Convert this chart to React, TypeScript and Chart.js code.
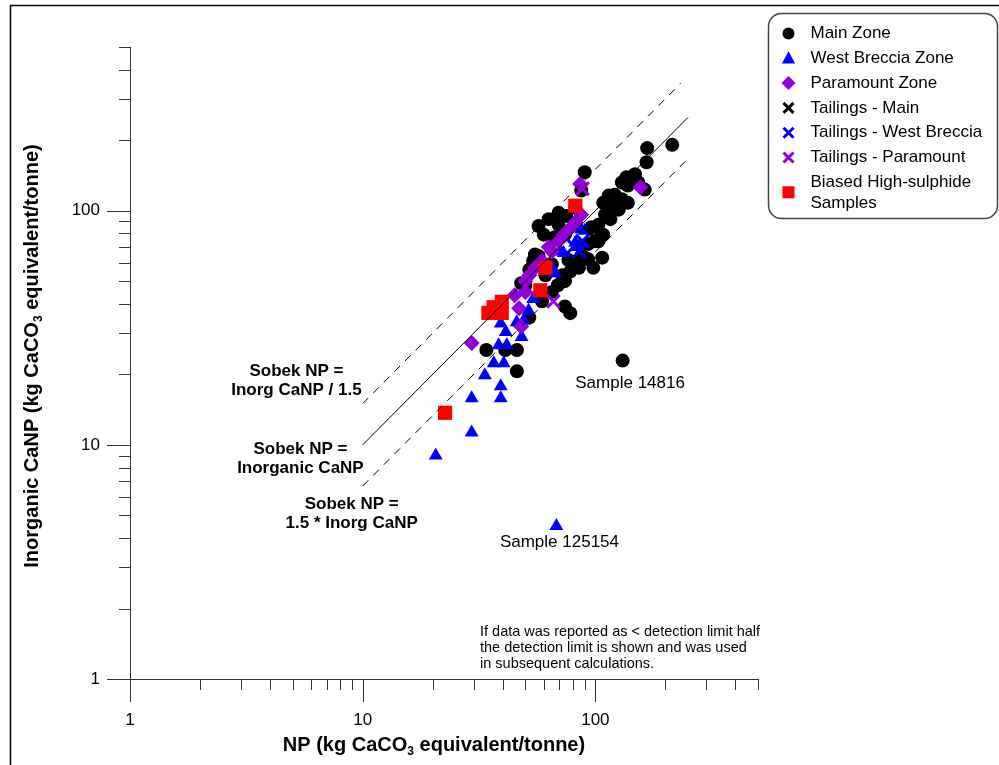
import React, { useEffect, useRef } from 'react';
import { Chart, registerables } from 'chart.js';

Chart.register(...registerables);

// ---------- data (NP, Inorganic CaNP) ----------
const mainZone: [number, number][] = [
  [214, 191], [167, 185], [166, 161], [90, 146], [87, 122], [148, 143], [136, 139], [130, 132],
  [138, 128], [163, 123], [153, 132], [114, 116], [121, 117], [108, 108], [130, 112], [117, 103],
  [126, 101], [138, 108], [110, 96], [103, 87], [116, 92], [96, 85], [108, 79], [100, 74],
  [105, 77], [93, 72], [93, 62], [87, 64], [82, 59], [78, 55], [74, 50], [69, 48], [74, 39],
  [78, 36.5], [82, 103], [75, 95], [69.5, 87], [74, 79], [67, 77], [57, 64], [54, 61], [52, 56],
  [48, 49], [65, 45], [59, 41], [52, 35], [34, 25.4], [41, 25.4], [46, 25.4], [46, 20.6],
  [131, 22.9], [65, 59], [72, 53], [61, 53], [63, 92], [57, 86], [60, 79], [55, 65], [50, 48],
  [103, 74], [90, 63], [85, 57], [69.5, 98], [76.6, 61.6], [98, 57], [107, 63],
];
const westBreccia: [number, number][] = [
  [20.6, 9.0], [29.4, 11.3], [29.4, 15.8], [39.2, 15.8], [39.2, 17.8], [33.5, 19.8], [36.6, 22.3],
  [40.4, 22.3], [38.4, 26.6], [41.6, 26.6], [48.2, 28.9], [41.2, 30.3], [39.2, 33], [49.2, 34],
  [51.6, 37.5], [45.9, 33.4], [73, 66], [83, 70], [87, 83], [68, 4.5], [67, 54], [54, 42],
  [71, 67], [82, 73], [90, 82], [66, 56],
];
const paramount: [number, number][] = [
  [29.4, 27.2], [156, 126], [86, 130], [63, 70], [45, 43.5], [47, 38.3], [48, 32], [87, 96],
  [82, 89], [77, 83], [73, 79], [69.5, 74], [65, 67], [59, 61], [55, 57], [52, 53], [50, 50], [50, 45],
];
const tailingsMain: [number, number][] = [[120, 110], [95, 80]];
const tailingsWestBreccia: [number, number][] = [[81, 70.5], [85, 67], [88, 74]];
const tailingsParamount: [number, number][] = [[66, 41], [88, 124]];
const biasedHighSulphide: [number, number][] = [
  [82, 105], [61, 57], [58, 45.7], [22.6, 13.7], [34.7, 36.6], [36.5, 38.7], [39.6, 40.8], [39.6, 36.6],
];

// reference lines
const lineOneToOne: [number, number][] = [[10, 10], [250, 250]];
const lineUpper: [number, number][] = [[10, 15], [233, 350]];
const lineLower: [number, number][] = [[10, 6.67], [250, 166.7]];

// axis ticks
const axisMin = 1;
const axisMax = 500;
const majorTicks = [1, 10, 100];
const minorTicks = [2, 3, 4, 5, 6, 7, 8, 9, 20, 30, 40, 50, 60, 70, 80, 90, 200, 300, 400, 500];
const majorTickLabels = ['1', '10', '100'];

const legendLabels = [
  'Main Zone',
  'West Breccia Zone',
  'Paramount Zone',
  'Tailings - Main',
  'Tailings - West Breccia',
  'Tailings - Paramount',
  'Biased High-sulphide|Samples',
];

const BLACK = '#000000';
const BLUE = '#0000FF';
const PURPLE = '#9400D3';
const RED = '#FF0000';
const FONT = "'Liberation Sans', Arial, Helvetica, sans-serif";

const toXY = (arr: [number, number][]) => arr.map(([x, y]) => ({ x, y }));

function drawMarker(ctx: CanvasRenderingContext2D, kind: string, x: number, y: number, r: number, color: string) {
  ctx.save();
  ctx.fillStyle = color;
  ctx.strokeStyle = color;
  ctx.beginPath();
  if (kind === 'circle') {
    ctx.arc(x, y, r, 0, Math.PI * 2);
    ctx.fill();
  } else if (kind === 'triangle') {
    ctx.moveTo(x, y - r);
    ctx.lineTo(x + r * 0.95, y + r * 0.75);
    ctx.lineTo(x - r * 0.95, y + r * 0.75);
    ctx.closePath();
    ctx.fill();
  } else if (kind === 'diamond') {
    ctx.moveTo(x, y - r);
    ctx.lineTo(x + r, y);
    ctx.lineTo(x, y + r);
    ctx.lineTo(x - r, y);
    ctx.closePath();
    ctx.fill();
  } else if (kind === 'cross') {
    ctx.lineWidth = 3;
    ctx.moveTo(x - r, y - r);
    ctx.lineTo(x + r, y + r);
    ctx.moveTo(x + r, y - r);
    ctx.lineTo(x - r, y + r);
    ctx.stroke();
  } else if (kind === 'square') {
    ctx.fillRect(x - r, y - r, 2 * r, 2 * r);
  }
  ctx.restore();
}

function drawSubTitle(ctx: CanvasRenderingContext2D, cx: number, cy: number, pre: string, sub: string, post: string, size: number) {
  const big = `bold ${size}px ${FONT}`;
  const small = `bold ${Math.round(size * 0.6)}px ${FONT}`;
  ctx.font = big;
  const w1 = ctx.measureText(pre).width;
  const w3 = ctx.measureText(post).width;
  ctx.font = small;
  const w2 = ctx.measureText(sub).width;
  let x = cx - (w1 + w2 + w3) / 2;
  ctx.textAlign = 'left';
  ctx.textBaseline = 'middle';
  ctx.font = big;
  ctx.fillText(pre, x, cy);
  x += w1;
  ctx.font = small;
  ctx.fillText(sub, x, cy + size * 0.32);
  x += w2;
  ctx.font = big;
  ctx.fillText(post, x, cy);
}

const overlayPlugin = {
  id: 'overlay',
  beforeDatasetsDraw(chart: any) {
    const ctx: CanvasRenderingContext2D = chart.ctx;
    const xs = chart.scales.x;
    const ys = chart.scales.y;
    const x0 = xs.getPixelForValue(axisMin);
    const x1 = xs.getPixelForValue(axisMax);
    const y0 = ys.getPixelForValue(axisMin);
    const y1 = ys.getPixelForValue(axisMax);
    ctx.save();
    // frame
    ctx.strokeStyle = '#000';
    ctx.lineWidth = 1.5;
    ctx.beginPath();
    ctx.moveTo(10.5, 770);
    ctx.lineTo(10.5, 5.5);
    ctx.lineTo(1005, 5.5);
    ctx.stroke();

    // axes
    ctx.strokeStyle = '#333';
    ctx.lineWidth = 1;
    ctx.beginPath();
    ctx.moveTo(x0, y0 + 0.5);
    ctx.lineTo(x1, y0 + 0.5);
    ctx.moveTo(x0 + 0.5, y0);
    ctx.lineTo(x0 + 0.5, y1);
    const MAJ = 23;
    const MIN = 11;
    majorTicks.forEach((v) => {
      const px = Math.round(xs.getPixelForValue(v)) + 0.5;
      ctx.moveTo(px, y0);
      ctx.lineTo(px, y0 + MAJ);
      const py = Math.round(ys.getPixelForValue(v)) + 0.5;
      ctx.moveTo(x0, py);
      ctx.lineTo(x0 - MAJ, py);
    });
    minorTicks.forEach((v) => {
      const px = Math.round(xs.getPixelForValue(v)) + 0.5;
      ctx.moveTo(px, y0);
      ctx.lineTo(px, y0 + MIN);
      const py = Math.round(ys.getPixelForValue(v)) + 0.5;
      ctx.moveTo(x0, py);
      ctx.lineTo(x0 - MIN, py);
    });
    ctx.stroke();

    // tick labels
    ctx.fillStyle = '#000';
    ctx.font = `17px ${FONT}`;
    ctx.textBaseline = 'middle';
    majorTicks.forEach((v, i) => {
      ctx.textAlign = 'center';
      ctx.fillText(majorTickLabels[i], xs.getPixelForValue(v), y0 + 41);
      ctx.textAlign = 'right';
      ctx.fillText(majorTickLabels[i], x0 - 30, ys.getPixelForValue(v));
    });

    // axis titles
    drawSubTitle(ctx, 434, 745, 'NP (kg CaCO', '3', ' equivalent/tonne)', 20);
    ctx.save();
    ctx.translate(32, 356);
    ctx.rotate(-Math.PI / 2);
    drawSubTitle(ctx, 0, 0, 'Inorganic CaNP (kg CaCO', '3', ' equivalent/tonne)', 20);
    ctx.restore();
    ctx.restore();
  },
  afterDraw(chart: any) {
    const ctx: CanvasRenderingContext2D = chart.ctx;
    const xs = chart.scales.x;
    const ys = chart.scales.y;
    const P = (x: number, y: number) => [xs.getPixelForValue(x), ys.getPixelForValue(y)];
    ctx.save();
    ctx.fillStyle = '#000';
    ctx.textAlign = 'center';
    ctx.textBaseline = 'middle';

    // line labels
    ctx.font = `bold 17px ${FONT}`;
    const blocks: [number, number, string[]][] = [
      [5.19, 18.8, ['Sobek NP =', 'Inorg CaNP / 1.5']],
      [5.4, 8.7, ['Sobek NP =', 'Inorganic CaNP']],
      [8.97, 5.1, ['Sobek NP =', '1.5 * Inorg CaNP']],
    ];
    blocks.forEach(([vx, vy, lines]) => {
      const [cx, cy] = P(vx, vy);
      ctx.fillText(lines[0], cx, cy - 9.5);
      ctx.fillText(lines[1], cx, cy + 9.5);
    });

    // sample labels
    ctx.font = `17px ${FONT}`;
    let [sx, sy] = P(141, 18.3);
    ctx.fillText('Sample 14816', sx, sy);
    [sx, sy] = P(70.1, 3.82);
    ctx.fillText('Sample 125154', sx, sy);

    // note
    ctx.font = `14.5px ${FONT}`;
    ctx.textAlign = 'left';
    const note = [
      'If data was reported as < detection limit half',
      'the detection limit is shown and was used',
      'in subsequent calculations.',
    ];
    note.forEach((t, i) => ctx.fillText(t, 480, 632 + i * 16));

    // legend
    ctx.strokeStyle = '#444';
    ctx.lineWidth = 1.5;
    ctx.beginPath();
    (ctx as any).roundRect(768.5, 13.5, 229, 205, 13);
    ctx.fillStyle = '#fff';
    ctx.fill();
    ctx.stroke();
    const kinds = ['circle', 'triangle', 'diamond', 'cross', 'cross', 'cross', 'square'];
    const colors = [BLACK, BLUE, PURPLE, BLACK, BLUE, PURPLE, RED];
    const sizes = [6, 7, 7, 5, 5, 5, 6];
    ctx.font = `17px ${FONT}`;
    ctx.fillStyle = '#000';
    ctx.textAlign = 'left';
    legendLabels.forEach((lab, i) => {
      const parts = lab.split('|');
      const y = 33.5 + i * 24.8;
      const my = parts.length > 1 ? y + 10 : y;
      drawMarker(ctx, kinds[i], 788.5, my, sizes[i], colors[i]);
      ctx.fillStyle = '#000';
      parts.forEach((p, j) => ctx.fillText(p, 810.5, y + j * 21));
    });
    ctx.restore();
  },
};

export default function App() {
  const canvasRef = useRef<HTMLCanvasElement | null>(null);

  useEffect(() => {
    if (!canvasRef.current) return;
    const lineDs = (data: [number, number][], dash: number[]) => ({
      type: 'scatter' as const,
      data: toXY(data),
      showLine: true,
      borderColor: '#000',
      borderWidth: 1,
      borderDash: dash,
      pointRadius: 0,
      order: 0,
    });
    const ptDs = (label: string, data: [number, number][], style: any, color: string, r: number, order: number, cross = false) => ({
      label,
      data: toXY(data),
      pointStyle: style,
      pointRadius: r,
      backgroundColor: color,
      borderColor: color,
      borderWidth: cross ? 3 : 0,
      showLine: false,
      order,
    });
    const chart = new Chart(canvasRef.current, {
      type: 'scatter',
      data: {
        datasets: [
          lineDs(lineOneToOne, []),
          lineDs(lineUpper, [8, 7]),
          lineDs(lineLower, [8, 7]),
          ptDs('Main Zone', mainZone, 'circle', BLACK, 7, 7),
          ptDs('West Breccia Zone', westBreccia, 'triangle', BLUE, 8, 6),
          ptDs('Paramount Zone', paramount, 'rectRot', PURPLE, 8, 5),
          ptDs('Tailings - Main', tailingsMain, 'crossRot', BLACK, 9, 4, true),
          ptDs('Tailings - West Breccia', tailingsWestBreccia, 'crossRot', BLUE, 9, 3, true),
          ptDs('Tailings - Paramount', tailingsParamount, 'crossRot', PURPLE, 9, 2, true),
          ptDs('Biased High-sulphide Samples', biasedHighSulphide, 'rect', RED, 10, 1),
        ] as any,
      },
      options: {
        animation: false,
        responsive: false,
        devicePixelRatio: 1,
        layout: { padding: { left: 130, right: 241, top: 47, bottom: 86 } },
        plugins: { legend: { display: false }, tooltip: { enabled: false } },
        scales: {
          x: { type: 'logarithmic', min: axisMin, max: axisMax, display: false },
          y: { type: 'logarithmic', min: axisMin, max: axisMax, display: false },
        },
        events: [],
      } as any,
      plugins: [overlayPlugin],
    });
    return () => chart.destroy();
  }, []);

  return (
    <div style={{ position: 'absolute', left: 0, top: 0, width: 999, height: 765, background: '#fff' }}>
      <canvas ref={canvasRef} width={999} height={765} style={{ width: 999, height: 765, display: 'block' }} />
    </div>
  );
}
